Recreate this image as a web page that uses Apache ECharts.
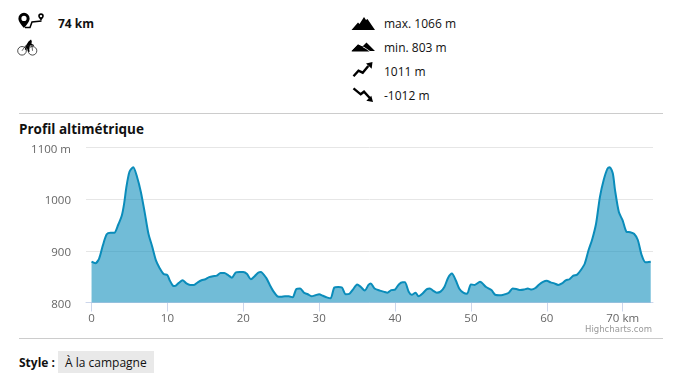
<!DOCTYPE html>
<html>
<head>
<meta charset="utf-8">
<title>Profil altimétrique</title>
<script src="https://cdn.jsdelivr.net/npm/echarts@6/dist/echarts.min.js"></script>
<style>
	html, body { margin: 0; padding: 0; background: #fff; }
	body { width: 676px; height: 385px; position: relative; overflow: hidden; font-family: "Open Sans", sans-serif; color: #111; }
	#chart { position: absolute; left: 0; top: 135px; width: 676px; height: 205px; }
	#icons { position: absolute; left: 0; top: 0; }
	.t { position: absolute; font-size: 12px; line-height: 18px; white-space: nowrap; }
	.b { font-weight: 700; }
	.rule { position: absolute; left: 19px; width: 644px; height: 1px; background: #ccc; }
</style>
</head>
<body>
<svg id="icons" width="676" height="385" fill="#000">
	<!-- itineraire -->
	<path fill-rule="evenodd" d="M24 12.800a5.600 5.600 0 0 0-5.600 5.600c0 3.400 3.400 6.800 5.600 9.600 2.200-2.800 5.600-6.200 5.600-9.600a5.600 5.600 0 0 0-5.600-5.600zm0 3a2.600 2.600 0 1 1 0 5.200 2.600 2.600 0 0 1 0-5.200z"/>
	<path d="M25 27.500h5l2-5.500 9.500-1" fill="none" stroke="#000" stroke-width="1.500"/>
	<path fill-rule="evenodd" d="M41 13.300a2.800 2.800 0 0 0-2.800 2.800c0 1.500 1.700 3.200 2.800 4.600 1.100-1.400 2.800-3.100 2.800-4.600a2.800 2.800 0 0 0-2.800-2.800zm0 1.600a1.200 1.200 0 1 1 0 2.400 1.200 1.200 0 0 1 0-2.400z"/>
	<!-- velo -->
	<circle cx="22" cy="50.800" r="4.300" fill="none" stroke="#222" stroke-width=".8"/>
	<circle cx="32.500" cy="50.800" r="4.300" fill="none" stroke="#222" stroke-width=".8"/>
	<path d="M31 39.500l.8 1.800-.3 2.500 2.500 1.300-.4.8-3.200-1-1.300 3 .5 3.800-1.200.2-1.600-3.800-1.300 1.800-.7-.5 1.500-4.500 2.200-3.500z"/>
	<path d="M22 50.800l3.500-5 6.500 0 .5 5M25.500 45.800l1.500 5" fill="none" stroke="#222" stroke-width=".7"/>
	<!-- max -->
	<path d="M351.500 30l6.500-7.500 1.500 1.500 4.500-7 2 3 1.500-1 7.500 11z"/>
	<!-- min -->
	<path d="M351.500 51l6.500-6.500 4.500 2 4-4 8.500 8.500-5 0-6.500-4.500-3.500 4.500z"/>
	<path d="M351.500 51.500l6.500-7 8 4.500 3.500 2.500z"/>
	<!-- montee -->
	<path d="M353.500 76.200l5-5.500 4.200 2 5.600-6.700" fill="none" stroke="#000" stroke-width="2.400"/>
	<path d="M366 63.500l6.500-1.500-.8 6.700z"/>
	<!-- descente -->
	<path d="M353.500 88.300l7.200 6 3.300-2.600 6 6.600" fill="none" stroke="#000" stroke-width="2.400"/>
	<path d="M373 102l-6.700-1.300 5-5z"/>
</svg>
<div class="t b" style="left:58px;top:15px;font-size:12px">74 km</div>
<div class="t" style="left:384px;top:15px">max. 1066 m</div>
<div class="t" style="left:384px;top:39px">min. 803 m</div>
<div class="t" style="left:384px;top:63px">1011 m</div>
<div class="t" style="left:384px;top:87px">-1012 m</div>
<div class="rule" style="top:113px"></div>
<div class="t b" style="left:19px;top:120px;font-size:13.5px">Profil altimétrique</div>
<div id="chart"></div>
<div class="rule" style="top:338px"></div>
<div class="t b" style="left:19px;top:354px">Style :</div>
<div style="position:absolute;left:58px;top:351px;width:96px;height:22px;background:#e9e9e9"></div>
<div class="t" style="left:65px;top:354px">À la campagne</div>
<script>
var km = [0, 0.5, 1, 1.5, 2, 2.5, 3, 3.5, 4, 4.3, 4.6, 5, 5.5, 6, 6.5, 7, 7.5, 8, 8.5, 9, 9.5, 10, 10.3, 10.7, 11, 11.5, 12, 12.5, 13, 13.5, 14, 14.5, 15, 15.5, 16, 16.5, 17, 17.5, 18, 18.5, 19, 19.5, 20, 20.5, 21, 21.5, 22, 22.3, 23, 23.5, 24, 24.5, 25, 25.5, 26, 26.5, 27, 27.5, 28, 28.5, 29, 29.5, 30, 30.5, 31, 31.5, 32, 32.5, 33, 33.5, 34, 34.5, 35, 35.5, 36, 36.5, 36.8, 37.3, 38, 38.5, 39, 39.5, 40, 40.5, 41, 41.3, 41.8, 42.2, 42.7, 43.1, 43.6, 44.2, 44.6, 45, 45.5, 46, 46.5, 47, 47.5, 48, 48.5, 49, 49.5, 50, 50.5, 51.2, 52, 52.7, 53.2, 54, 54.5, 55, 55.5, 56, 56.5, 57, 57.5, 58, 58.5, 59, 59.5, 60, 60.5, 61, 61.5, 62, 62.5, 63, 63.5, 64, 64.5, 65, 65.5, 66, 66.5, 67, 67.5, 68, 68.3, 68.7, 69, 69.5, 70, 70.5, 71, 71.5, 72, 72.5, 73, 73.7];
var altitude = [879, 876, 885, 911, 932, 935, 935, 950, 969, 992, 1024, 1053, 1062, 1043, 1014, 975, 933, 908, 881, 866, 855, 853, 843, 833, 832, 838, 843, 837, 834, 834, 839, 843, 845, 849, 851, 852, 857, 857, 853, 848, 858, 859, 859, 855, 845, 851, 858, 859, 848, 834, 821, 812, 811, 812, 812, 810, 826, 827, 819, 816, 812, 814, 816, 813, 810, 808, 829, 830, 829, 816, 817, 826, 835, 830, 823, 834, 837, 827, 823, 821, 819, 824, 825, 835, 839, 839, 821, 815, 819, 812, 817, 826, 827, 823, 819, 821, 830, 848, 856, 843, 826, 819, 817, 835, 834, 840, 830, 824, 815, 814, 816, 819, 827, 826, 824, 825, 827, 825, 828, 835, 840, 842, 839, 837, 834, 837, 843, 845, 852, 854, 863, 875, 901, 923, 953, 1004, 1037, 1059, 1062, 1050, 1017, 975, 959, 937, 936, 933, 921, 892, 878, 879];
var xTicks = [0, 10, 20, 30, 40, 50, 60, 70];
var yTicks = [800, 900, 1000, 1100];

var points = [];
for (var i = 0; i < km.length; i++) {
	points.push([km[i], altitude[i]]);
}

var chart = echarts.init(document.getElementById('chart'));
chart.setOption({
	animation: false,
	textStyle: { fontFamily: '"Open Sans", sans-serif' },
	grid: { left: 86, right: 23, top: 12.5, height: 155, containLabel: false },
	graphic: [{
		type: 'text',
		right: 24,
		top: 190,
		style: { text: 'Highcharts.com', fill: '#999', font: '8.5px "DejaVu Sans", sans-serif' }
	}],
	xAxis: {
		type: 'value',
		min: -0.73,
		max: 74,
		axisLine: { show: true, onZero: false, lineStyle: { color: '#ccd6eb', width: 1 } },
		axisTick: { show: true, length: 9, customValues: xTicks, lineStyle: { color: '#ccd6eb' } },
		splitLine: { show: false },
		axisLabel: {
			customValues: xTicks,
			color: '#666',
			fontSize: 11.5,
			margin: 10,
			formatter: function (v) {
				return v === xTicks[xTicks.length - 1] ? v + ' km' : '' + v;
			}
		}
	},
	yAxis: {
		type: 'value',
		min: yTicks[0],
		max: yTicks[yTicks.length - 1],
		interval: 100,
		axisLine: { show: false },
		axisTick: { show: false },
		splitLine: { lineStyle: { color: '#e6e6e6', width: 1 } },
		axisLabel: {
			color: '#666',
			fontSize: 11.5,
			margin: 15,
			verticalAlign: 'top',
			lineHeight: 16,
			padding: [-6, 0, 0, 0],
			formatter: function (v) {
				return v === yTicks[yTicks.length - 1] ? v + ' m' : '' + v;
			}
		}
	},
	series: [{
		type: 'line',
		data: points,
		smooth: 0.25,
		symbol: 'none',
		lineStyle: { color: '#0a8cba', width: 2 },
		areaStyle: { color: '#0a8cba', opacity: 0.58 }
	}]
});
</script>
</body>
</html>
